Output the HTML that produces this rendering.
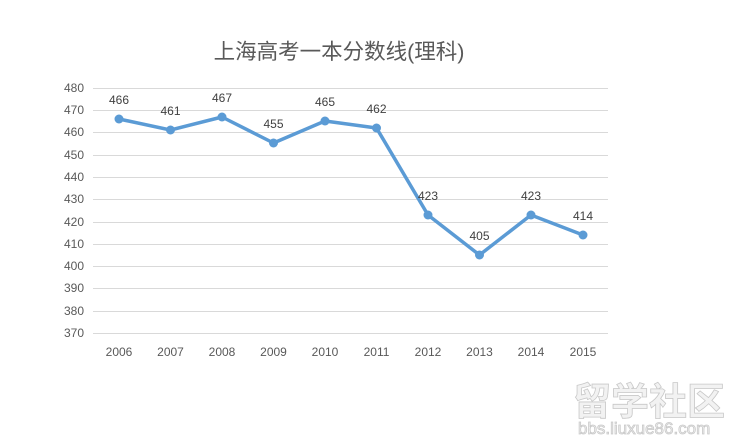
<!DOCTYPE html><html><head><style>body{margin:0;background:#fff}</style></head><body>
<svg width="732" height="441" xmlns="http://www.w3.org/2000/svg" font-family="Liberation Sans, Noto Sans CJK SC, sans-serif">
<rect width="732" height="441" fill="#fff"/>
<text x="339" y="59" font-size="21.5" fill="#595959" text-anchor="middle">上海高考一本分数线(理科)</text>
<g stroke="#d9d9d9" stroke-width="1">
<line x1="93" x2="608" y1="88.5" y2="88.5"/><line x1="93" x2="608" y1="110.5" y2="110.5"/><line x1="93" x2="608" y1="132.5" y2="132.5"/><line x1="93" x2="608" y1="155.5" y2="155.5"/><line x1="93" x2="608" y1="177.5" y2="177.5"/><line x1="93" x2="608" y1="199.5" y2="199.5"/><line x1="93" x2="608" y1="222.5" y2="222.5"/><line x1="93" x2="608" y1="244.5" y2="244.5"/><line x1="93" x2="608" y1="266.5" y2="266.5"/><line x1="93" x2="608" y1="288.5" y2="288.5"/><line x1="93" x2="608" y1="311.5" y2="311.5"/><line x1="93" x2="608" y1="333.5" y2="333.5"/>
</g>
<g font-size="12" fill="#595959" text-anchor="end">
<text x="84" y="92">480</text><text x="84" y="114">470</text><text x="84" y="136">460</text><text x="84" y="159">450</text><text x="84" y="181">440</text><text x="84" y="203">430</text><text x="84" y="226">420</text><text x="84" y="248">410</text><text x="84" y="270">400</text><text x="84" y="292">390</text><text x="84" y="315">380</text><text x="84" y="337">370</text>
</g>
<g font-size="12" fill="#595959" text-anchor="middle">
<text x="119" y="356">2006</text><text x="170.5" y="356">2007</text><text x="222" y="356">2008</text><text x="273.5" y="356">2009</text><text x="325" y="356">2010</text><text x="376.5" y="356">2011</text><text x="428" y="356">2012</text><text x="479.5" y="356">2013</text><text x="531" y="356">2014</text><text x="583" y="356">2015</text>
</g>
<polyline fill="none" stroke="#5b9bd5" stroke-width="3.5" stroke-linejoin="round" points="119,119 170.5,130 222,117 273.5,143 325,121 376.5,128 428,215 479.5,255 531,215 583,235"/>
<g fill="#5b9bd5">
<circle cx="119" cy="119" r="4.5"/><circle cx="170.5" cy="130" r="4.5"/><circle cx="222" cy="117" r="4.5"/><circle cx="273.5" cy="143" r="4.5"/><circle cx="325" cy="121" r="4.5"/><circle cx="376.5" cy="128" r="4.5"/><circle cx="428" cy="215" r="4.5"/><circle cx="479.5" cy="255" r="4.5"/><circle cx="531" cy="215" r="4.5"/><circle cx="583" cy="235" r="4.5"/>
</g>
<g font-size="12" fill="#404040" text-anchor="middle">
<text x="119" y="104">466</text><text x="170.5" y="115">461</text><text x="222" y="102">467</text><text x="273.5" y="128">455</text><text x="325" y="106">465</text><text x="376.5" y="113">462</text><text x="428" y="200">423</text><text x="479.5" y="240">405</text><text x="531" y="200">423</text><text x="583" y="220">414</text>
</g>
<g fill="#f2f2f2" stroke="#c8c8c8" stroke-width="0.8">
<text x="573" y="415" font-size="38" font-weight="bold" font-family="Noto Sans CJK SC, sans-serif">留学社区</text>
<text x="578" y="434" font-size="17">bbs.liuxue86.com</text>
</g>
</svg>
</body></html>
